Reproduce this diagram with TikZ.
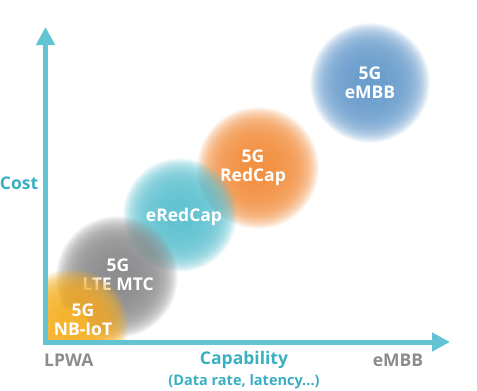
\documentclass[tikz,border=0pt]{standalone}
\usepackage{fontspec}
\setmainfont{Open Sans}
\usetikzlibrary{arrows.meta}
\definecolor{axisteal}{HTML}{62C3D2}
\definecolor{costteal}{HTML}{3AAFC1}
\definecolor{labgray}{HTML}{8C8C8C}
\definecolor{cblue}{HTML}{6C9ECD}
\definecolor{corange}{HTML}{F29245}
\definecolor{cteal}{HTML}{64C3D1}
\definecolor{cgray}{HTML}{8E8E90}
\definecolor{cyellow}{HTML}{F5B32E}
\newcommand{\drawblob}[4]{%
  \fill[#1] (#2,#3) circle ({0.3*#4});
  \foreach \i in {0,...,69}{
    \fill[#1, fill opacity=0.05] (#2,#3) circle ({#4*(0.3+0.7*\i/69)});
  }%
}
\tikzset{
  blobtext/.style={text=white, font=\bfseries\fontsize{17.5}{19}\selectfont, align=center},
  axislabel/.style={font=\bfseries\fontsize{17.5}{19}\selectfont},
  axisline/.style={draw=axisteal, line width=5pt, line join=miter, {Triangle[length=18pt,width=18pt]}-{Triangle[length=18pt,width=18pt]}}
}
\begin{document}
\begin{tikzpicture}[x=1pt,y=-1pt]
\useasboundingbox (0,0) rectangle (477,391);
% blobs
\drawblob{cblue}{370}{83}{60}
\node[blobtext] (embb) at (370,83) {5G\\eMBB};
\drawblob{corange}{258}{168}{61}
\node[blobtext] (redcap) at (253,168) {5G\\RedCap};
\drawblob{cteal}{180}{215}{57}
\node[blobtext] (eredcap) at (184,217) {eRedCap};
\drawblob{cgray}{117}{277}{61}
\node[blobtext] (ltemtc) at (118,275) {5G\\LTE MTC};
\begin{scope}
\clip (45,200) rectangle (200,342);
\drawblob{cyellow}{72}{325}{56}
\end{scope}
\node[blobtext] (nbiot) at (83,320) {5G\\NB-IoT};
% axes
\coordinate (ytip) at (45.5,27);
\coordinate (origin) at (45.5,342);
\coordinate (xtip) at (450,342);
\draw[axisline] (ytip) -- (origin) -- (xtip);
% labels
\node[axislabel, text=costteal] (cost) at (19,183) {Cost};
\node[axislabel, text=labgray, anchor=west, inner xsep=0pt] (lpwa) at (44,360) {LPWA};
\node[axislabel, text=costteal] (cap) at (244,360) {Capability};
\node[font=\bfseries\fontsize{14.5}{16}\selectfont, text=costteal] (sub) at (244,382) {(Data rate, latency...)};
\node[axislabel, text=labgray] (embblab) at (398,360) {eMBB};
\end{tikzpicture}
\end{document}
